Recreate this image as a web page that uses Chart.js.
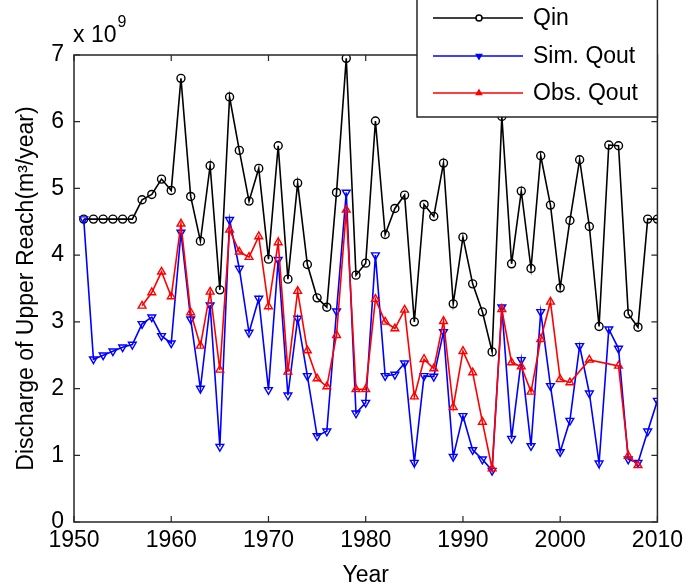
<!DOCTYPE html>
<html>
<head>
<meta charset="utf-8">
<title>Discharge of Upper Reach</title>
<script src="https://cdn.jsdelivr.net/npm/chart.js@4/dist/chart.umd.min.js"></script>
<style>
  html, body { margin: 0; padding: 0; background: #ffffff; }
  #wrap { width: 688px; height: 587px; }
</style>
</head>
<body>
<div id="wrap"><canvas id="c" width="688" height="587"></canvas></div>
<script>
// Annual discharge, in units of 10^9 m3/year
const years = [];
for (let y = 1951; y <= 2010; y++) years.push(y);

const qin = [
  4.54, 4.54, 4.54, 4.54, 4.54, 4.54, 4.83, 4.91, 5.14, 4.97,
  6.65, 4.88, 4.21, 5.34, 3.48, 6.37, 5.57, 4.81, 5.30, 3.94,
  5.64, 3.64, 5.08, 3.86, 3.36, 3.22, 4.94, 6.95, 3.70, 3.88,
  6.01, 4.31, 4.70, 4.90, 3.00, 4.76, 4.58, 5.38, 3.27, 4.27,
  3.57, 3.15, 2.55, 6.08, 3.87, 4.96, 3.80, 5.49, 4.75, 3.51,
  4.52, 5.43, 4.43, 2.93, 5.65, 5.64, 3.12, 2.92, 4.54, 4.54
];

const simQout = [
  4.54, 2.44, 2.50, 2.56, 2.62, 2.66, 2.97, 3.07, 2.79, 2.68,
  4.34, 3.04, 2.00, 3.25, 1.13, 4.53, 3.80, 2.84, 3.35, 1.98,
  3.93, 1.90, 3.05, 2.19, 1.29, 1.36, 3.16, 4.94, 1.63, 1.79,
  4.00, 2.19, 2.21, 2.38, 0.89, 2.19, 2.18, 2.85, 0.98, 1.59,
  1.08, 0.94, 0.77, 3.22, 1.25, 2.43, 1.14, 3.15, 2.04, 1.05,
  1.52, 2.64, 1.93, 0.88, 2.89, 2.60, 0.94, 0.89, 1.36, 1.82
];

const obsQout = [
  null, null, null, null, null, null, 3.24, 3.44, 3.75, 3.38,
  4.47, 3.14, 2.64, 3.45, 2.28, 4.38, 4.05, 3.97, 4.28, 3.23,
  4.19, 2.25, 3.46, 2.57, 2.15, 2.03, 2.80, 4.68, 1.99, 1.99,
  3.34, 3.00, 2.90, 3.18, 1.88, 2.44, 2.30, 3.01, 1.72, 2.56,
  2.24, 1.50, 0.80, 3.19, 2.39, 2.33, 1.95, 2.74, 3.30, 2.14,
  2.09, null, 2.43, null, null, 2.34, 0.99, 0.85, null, null
];

const xTicks = [1950, 1960, 1970, 1980, 1990, 2000, 2010];
const yTicks = [0, 1, 2, 3, 4, 5, 6, 7];
const seriesNames = ['Qin', 'Sim. Qout', 'Obs. Qout'];

const FONT = "'Liberation Sans', Arial, Helvetica, sans-serif";

function toPoints(vals) {
  return years.map((yr, i) => ({ x: yr, y: vals[i] }));
}

// Box around the axes with inward ticks on all four sides, the exponent
// label and the boxed legend in the upper right corner.
const framePlugin = {
  id: 'frame',
  afterDraw(chart) {
    const ctx = chart.ctx;
    const a = chart.chartArea;
    const xs = chart.scales.x, ys = chart.scales.y;
    const tl = 6;
    ctx.save();
    ctx.strokeStyle = '#262626';
    ctx.lineWidth = 1.5;
    ctx.strokeRect(a.left, a.top, a.right - a.left, a.bottom - a.top);
    ctx.lineWidth = 1.2;
    ctx.beginPath();
    xTicks.forEach(v => {
      const px = xs.getPixelForValue(v);
      ctx.moveTo(px, a.bottom); ctx.lineTo(px, a.bottom - tl);
      ctx.moveTo(px, a.top); ctx.lineTo(px, a.top + tl);
    });
    yTicks.forEach(v => {
      const py = ys.getPixelForValue(v);
      ctx.moveTo(a.left, py); ctx.lineTo(a.left + tl, py);
      ctx.moveTo(a.right, py); ctx.lineTo(a.right - tl, py);
    });
    ctx.stroke();

    // exponent label
    ctx.fillStyle = '#000';
    ctx.textBaseline = 'alphabetic';
    ctx.textAlign = 'left';
    ctx.font = '23px ' + FONT;
    ctx.fillText('x 10', a.left - 1, 42);
    const w = ctx.measureText('x 10').width;
    ctx.font = '16px ' + FONT;
    ctx.fillText('9', a.left - 1 + w + 1, 27);

    // legend
    const lx0 = 417, lx1 = a.right, ly0 = -2, ly1 = 117;
    ctx.fillStyle = '#fff';
    ctx.fillRect(lx0, ly0, lx1 - lx0, ly1 - ly0);
    ctx.strokeStyle = '#262626';
    ctx.lineWidth = 1.5;
    ctx.strokeRect(lx0, ly0, lx1 - lx0, ly1 - ly0);
    const rows = [18, 56, 93];
    chart.data.datasets.forEach((ds, i) => {
      const yy = rows[i];
      ctx.strokeStyle = ds.borderColor;
      ctx.lineWidth = 1.5;
      ctx.beginPath();
      ctx.moveTo(433, yy); ctx.lineTo(523, yy);
      ctx.stroke();
      ctx.fillStyle = ds.pointStyle === 'circle' ? '#fff' : ds.borderColor;
      Chart.helpers.drawPoint(ctx, {
        pointStyle: ds.pointStyle,
        radius: 3,
        rotation: ds.pointRotation || 0,
        borderWidth: 1.5
      }, 479, yy);
      ctx.fillStyle = '#000';
      ctx.font = '23px ' + FONT;
      ctx.textBaseline = 'middle';
      ctx.fillText(seriesNames[i], 533, yy + 1);
    });
    ctx.restore();
  }
};

const chart = new Chart(document.getElementById('c'), {
  type: 'line',
  data: {
    datasets: [
      {
        label: seriesNames[0],
        data: toPoints(qin),
        borderColor: '#000000',
        backgroundColor: 'rgba(0,0,0,0)',
        pointBackgroundColor: 'rgba(0,0,0,0)',
        pointBorderColor: '#000000',
        pointStyle: 'circle',
        pointRadius: 4,
        pointBorderWidth: 1.4,
        borderWidth: 1.6,
        tension: 0,
        order: 3
      },
      {
        label: seriesNames[1],
        data: toPoints(simQout),
        borderColor: '#0000ff',
        backgroundColor: 'rgba(0,0,0,0)',
        pointBackgroundColor: 'rgba(0,0,0,0)',
        pointBorderColor: '#0000ff',
        pointStyle: 'triangle',
        pointRotation: 180,
        pointRadius: 4.5,
        pointBorderWidth: 1.4,
        borderWidth: 1.6,
        tension: 0,
        order: 2
      },
      {
        label: seriesNames[2],
        data: toPoints(obsQout),
        borderColor: '#ff0000',
        backgroundColor: 'rgba(0,0,0,0)',
        pointBackgroundColor: 'rgba(0,0,0,0)',
        pointBorderColor: '#ff0000',
        pointStyle: 'triangle',
        pointRotation: 0,
        pointRadius: 4.5,
        pointBorderWidth: 1.4,
        borderWidth: 1.6,
        tension: 0,
        spanGaps: true,
        order: 1
      }
    ]
  },
  options: {
    responsive: false,
    animation: false,
    devicePixelRatio: 1,
    layout: { padding: { top: 55, right: 30, left: 0, bottom: 0 } },
    plugins: { legend: { display: false }, tooltip: { enabled: false } },
    scales: {
      x: {
        type: 'linear',
        min: 1950,
        max: 2010,
        afterFit(s) { s.height = 65; },
        afterBuildTicks(s) { s.ticks = xTicks.map(v => ({ value: v })); },
        grid: { display: false, drawTicks: false },
        border: { display: false },
        ticks: {
          color: '#000',
          padding: 5,
          maxRotation: 0,
          autoSkip: false,
          font: { family: FONT, size: 23 },
          callback: v => String(v)
        },
        title: {
          display: true,
          text: 'Year',
          color: '#000',
          font: { family: FONT, size: 23, lineHeight: 1.2 },
          padding: { top: 0, bottom: -2 }
        }
      },
      y: {
        type: 'linear',
        min: 0,
        max: 7,
        afterFit(s) { s.width = 74; },
        afterBuildTicks(s) { s.ticks = yTicks.map(v => ({ value: v })); },
        grid: { display: false, drawTicks: false },
        border: { display: false },
        ticks: {
          color: '#000',
          padding: 10,
          autoSkip: false,
          font: { family: FONT, size: 23 },
          callback: v => String(v)
        },
        title: {
          display: true,
          text: 'Discharge of Upper Reach(m\u00B3/year)',
          color: '#000',
          font: { family: FONT, size: 23, lineHeight: 1.2 },
          padding: { top: 13, bottom: 0 }
        }
      }
    }
  },
  plugins: [framePlugin]
});
</script>
</body>
</html>
